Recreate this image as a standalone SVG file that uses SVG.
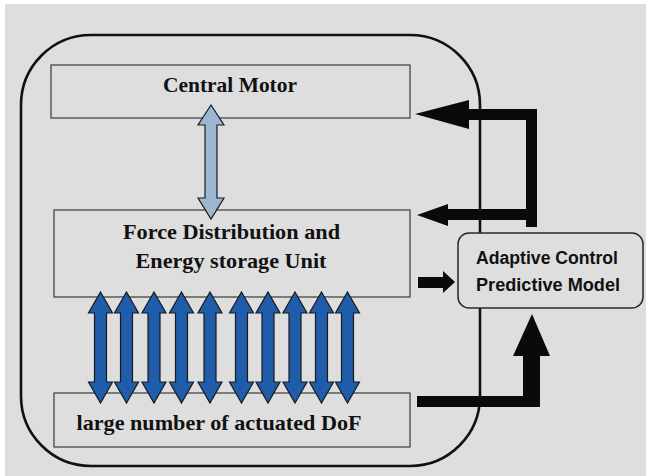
<svg xmlns="http://www.w3.org/2000/svg" xmlns:xlink="http://www.w3.org/1999/xlink" width="646" height="476" viewBox="0 0 646 476">
  <style>
    .box { fill: none; stroke: #3a3a3a; stroke-width: 1.2; }
    .serif { font-family: "Liberation Serif", "Times New Roman", serif; font-weight: bold; font-size: 22px; fill: #111; }
    .sans { font-family: "Liberation Sans", Arial, sans-serif; font-weight: bold; font-size: 18px; fill: #111; }
    .blk { fill: #0a0a0d; stroke: none; }
    .dof { fill: #1f5dab; stroke: #1a1a1a; stroke-width: 1.2; stroke-linejoin: miter; }
  </style>
  <defs>
    <path id="dofArrow" d="M0,292 L12,313 L6,313 L6,382 L12,382 L0,403 L-12,382 L-6,382 L-6,313 L-12,313 Z"/>
  </defs>
  <rect x="5" y="4" width="641" height="472" fill="#dedede"/>
  <g id="outer">
    <rect x="21" y="35" width="459" height="431" rx="70" ry="70" fill="none" stroke="#111" stroke-width="2.6"/>
  </g>
  <g id="central-motor">
    <rect class="box" x="51" y="65" width="359" height="53"/>
    <text class="serif" x="230" y="92" text-anchor="middle" textLength="134" lengthAdjust="spacingAndGlyphs">Central Motor</text>
  </g>
  <g id="force-distribution">
    <rect class="box" x="54" y="210" width="356" height="87"/>
    <text class="serif" x="231.5" y="239" text-anchor="middle" textLength="217" lengthAdjust="spacingAndGlyphs">Force Distribution and</text>
    <text class="serif" x="231" y="268" text-anchor="middle" textLength="191" lengthAdjust="spacingAndGlyphs">Energy storage Unit</text>
  </g>
  <g id="actuated-dof">
    <rect class="box" x="54" y="393" width="356" height="54"/>
    <text class="serif" x="219" y="430" text-anchor="middle" textLength="285" lengthAdjust="spacingAndGlyphs">large number of actuated DoF</text>
  </g>
  <g id="connectors">
    <path d="M211,105 L224,125 L217,125 L217,198 L224,198 L211,219 L198,198 L205,198 L205,125 L198,125 Z" fill="#9db6d2" stroke="#1a1a1a" stroke-width="1.2"/>
    <use href="#dofArrow" xlink:href="#dofArrow" class="dof" x="100.5"/>
    <use href="#dofArrow" xlink:href="#dofArrow" class="dof" x="126.5"/>
    <use href="#dofArrow" xlink:href="#dofArrow" class="dof" x="154"/>
    <use href="#dofArrow" xlink:href="#dofArrow" class="dof" x="181.5"/>
    <use href="#dofArrow" xlink:href="#dofArrow" class="dof" x="210"/>
    <use href="#dofArrow" xlink:href="#dofArrow" class="dof" x="241.5"/>
    <use href="#dofArrow" xlink:href="#dofArrow" class="dof" x="268"/>
    <use href="#dofArrow" xlink:href="#dofArrow" class="dof" x="295"/>
    <use href="#dofArrow" xlink:href="#dofArrow" class="dof" x="321.5"/>
    <use href="#dofArrow" xlink:href="#dofArrow" class="dof" x="347.5"/>
    <path class="blk" d="M537,227 L526,227 L526,220 L448,220 L448,226 L417,215 L448,204 L448,209 L526,209 L526,120 L469,120 L469,129 L415,114 L469,100 L469,109 L537,109 Z"/>
    <path class="blk" d="M418,277 L443,277 L443,271 L455,282 L443,293 L443,288 L418,288 Z"/>
    <path class="blk" d="M417,396 L523,396 L523,356 L513,356 L532,314 L550,356 L540,356 L540,407 L417,407 Z"/>
  </g>
  <g id="adaptive-control">
    <rect x="458" y="233" width="185" height="75" rx="11" ry="11" fill="#dedede" stroke="#2a2a2a" stroke-width="1.5"/>
    <text class="sans" x="476" y="264" textLength="142" lengthAdjust="spacingAndGlyphs">Adaptive Control</text>
    <text class="sans" x="476" y="291" textLength="144" lengthAdjust="spacingAndGlyphs">Predictive Model</text>
  </g>
</svg>
